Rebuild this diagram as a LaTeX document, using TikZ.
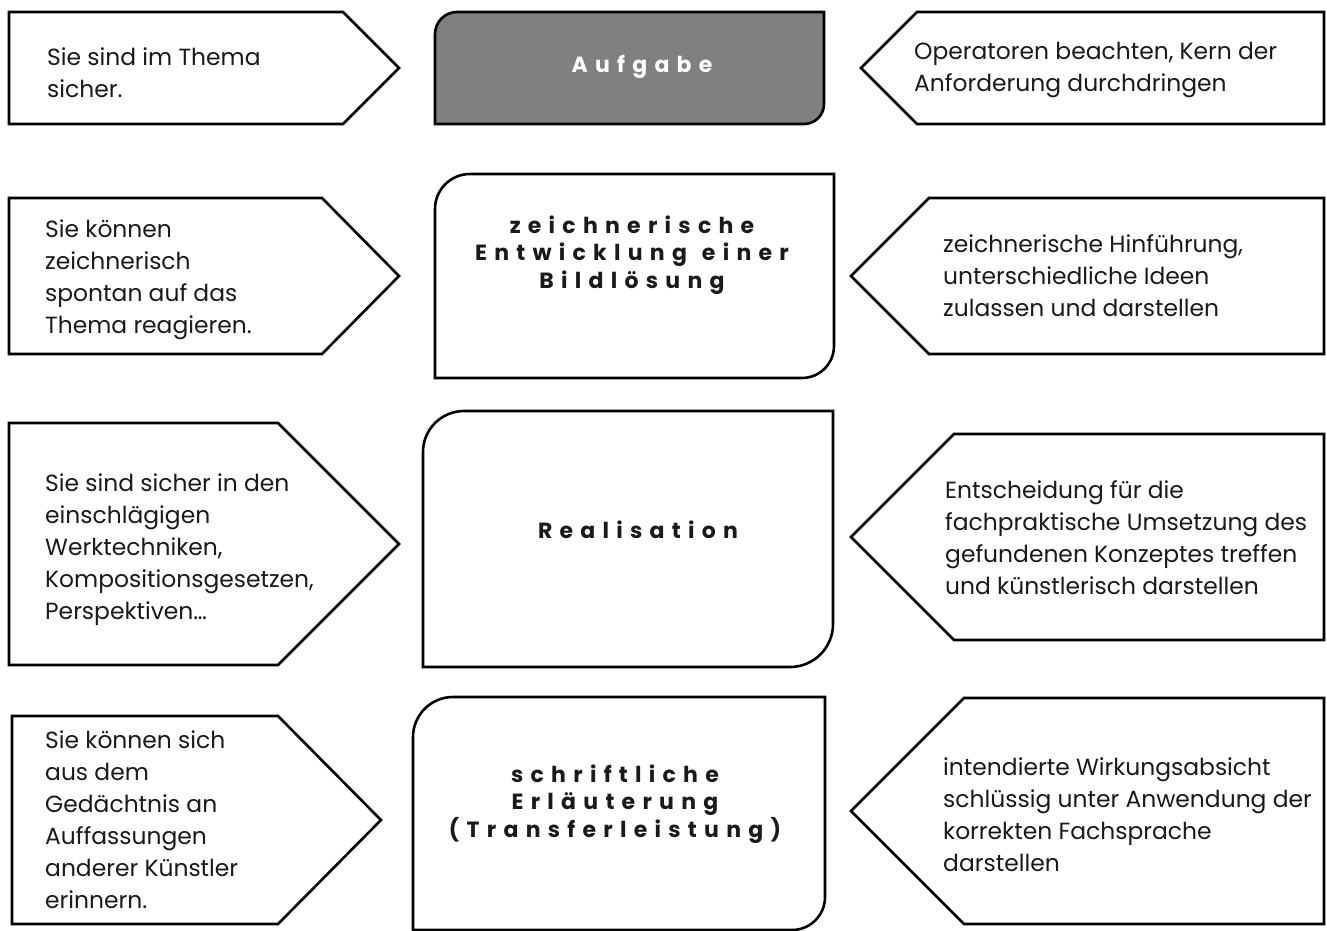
\documentclass[tikz,border=0pt]{standalone}
\usepackage{fontspec}
\setmainfont{Poppins}
\newfontfamily\spacedfam[LetterSpace=33]{Poppins}
\newcommand\txtbody{\fontsize{23.4}{32}\selectfont}
\newcommand\txthead{\spacedfam\bfseries\fontsize{22}{27.5}\selectfont}
\newcommand\wgap{\hspace{15pt}}
\definecolor{boxgray}{HTML}{808080}
\definecolor{inkc}{HTML}{1A1A1A}
\begin{document}
\begin{tikzpicture}[x=1pt,y=1pt,
  shapeline/.style={draw=black,line width=2.6pt,line join=miter},
  bodytext/.style={anchor=north west,inner sep=0pt,align=left,font=\txtbody,text=inkc},
  headtext/.style={anchor=north,inner sep=0pt,align=center,font=\txthead,text=inkc}]
\useasboundingbox (0,0) rectangle (1327,-931);
\fill[white] (0,0) rectangle (1327,-931);

% ---------- Row 1 ----------
\draw[shapeline] (9,-12) -- (343,-12) -- (399,-68) -- (343,-124) -- (9,-124) -- cycle;
\draw[shapeline,fill=boxgray] (435,-124) -- (435,-34) arc[start angle=180,end angle=90,radius=22]
  -- (824,-12) -- (824,-104) arc[start angle=0,end angle=-90,radius=20] -- cycle;
\draw[shapeline] (1324,-12) -- (917,-12) -- (861,-68) -- (917,-124) -- (1324,-124) -- cycle;
\node[bodytext] (t1l) at (47,-42.6) {\strut Sie sind im Thema\\sicher.};
\node[headtext,text=white] (t1c) at (642,-52.75) {\strut Aufgabe};
\node[bodytext] (t1r) at (914,-36.6) {\strut Operatoren beachten, Kern der\\Anforderung durchdringen};

% ---------- Row 2 ----------
\draw[shapeline] (9,-198) -- (322,-198) -- (399,-276) -- (322,-354) -- (9,-354) -- cycle;
\draw[shapeline] (435,-378) -- (435,-209) arc[start angle=180,end angle=90,radius=35]
  -- (834,-174) -- (834,-346) arc[start angle=0,end angle=-90,radius=32] -- cycle;
\draw[shapeline] (1324,-198) -- (929,-198) -- (851,-276) -- (929,-354) -- (1324,-354) -- cycle;
\node[bodytext] (t2l) at (45,-214.6) {\strut Sie können\\zeichnerisch\\spontan auf das\\Thema reagieren.};
\node[headtext] (t2c) at (632,-213.75) {\strut zeichnerische\\Entwicklung\wgap einer\\Bildlösung};
\node[bodytext] (t2r) at (943,-229.6) {\strut zeichnerische Hinführung,\\unterschiedliche Ideen\\zulassen und darstellen};

% ---------- Row 3 ----------
\draw[shapeline] (9,-423) -- (278,-423) -- (399,-544) -- (278,-665) -- (9,-665) -- cycle;
\draw[shapeline] (423,-667) -- (423,-452) arc[start angle=180,end angle=90,radius=41]
  -- (833,-411) -- (833,-624) arc[start angle=0,end angle=-90,radius=43] -- cycle;
\draw[shapeline] (1324,-434) -- (954,-434) -- (851,-537) -- (954,-640) -- (1324,-640) -- cycle;
\node[bodytext] (t3l) at (45,-468.6) {\strut Sie sind sicher in den\\einschlägigen\\Werktechniken,\\Kompositionsgesetzen,\\Perspektiven…};
\node[headtext] (t3c) at (638,-518.75) {\strut Realisation};
\node[bodytext] (t3r) at (945,-475.6) {\strut Entscheidung für die\\fachpraktische Umsetzung des\\gefundenen Konzeptes treffen\\und künstlerisch darstellen};

% ---------- Row 4 ----------
\draw[shapeline] (12,-716) -- (278,-716) -- (381,-820) -- (278,-924) -- (12,-924) -- cycle;
\draw[shapeline] (413,-933) -- (413,-737) arc[start angle=180,end angle=90,radius=40]
  -- (825,-697) -- (825,-897) arc[start angle=0,end angle=-90,radius=33] -- (413,-930);
\draw[shapeline] (1324,-698) -- (964,-698) -- (851,-811) -- (964,-924) -- (1324,-924) -- cycle;
\node[bodytext] (t4l) at (45,-725.6) {\strut Sie können sich\\aus dem\\Gedächtnis an\\Auffassungen\\anderer Künstler\\erinnern.};
\node[headtext] (t4c) at (615,-762.75) {\strut schriftliche\\Erläuterung\\(Transferleistung)};
\node[bodytext] (t4r) at (943,-752.6) {\strut intendierte Wirkungsabsicht\\schlüssig unter Anwendung der\\korrekten Fachsprache\\darstellen};
\end{tikzpicture}
\end{document}
